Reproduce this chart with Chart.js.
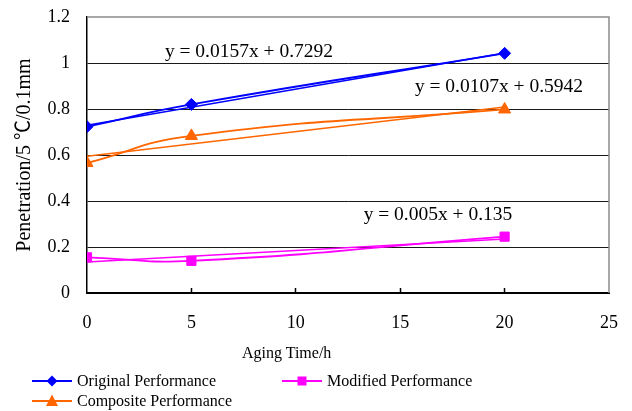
<!DOCTYPE html>
<html><head><meta charset="utf-8">
<script src="https://cdn.jsdelivr.net/npm/chart.js@4.4.1/dist/chart.umd.min.js"></script>
<style>
body{margin:0;background:#fff;}
#wrap{position:relative;width:632px;height:411px;font-family:"Liberation Serif","Times New Roman",serif;color:#000;overflow:hidden;}
canvas{position:absolute;left:0;top:0;}
.t{position:absolute;white-space:nowrap;line-height:1;}
.eq{font-size:19.5px;transform:translate(-50%,-50%);}
.lg{position:absolute;height:20px;display:flex;align-items:center;font-size:16px;white-space:nowrap;transform:translateY(-50%);}
.lg svg{margin-right:5px;}
</style></head><body>
<div id="wrap">
<canvas id="c" width="632" height="411"></canvas>
</div>
<script>
const xValues=[0,5,20];
const originalValues=[0.723,0.82,1.042];
const compositeValues=[0.565,0.683,0.798];
const modifiedValues=[0.155,0.14,0.245];
const trendX=[0,20];
const originalTrend=[0.7292,1.0432];
const compositeTrend=[0.5942,0.8082];
const modifiedTrend=[0.135,0.235];
const xTickLabels=['0','5','10','15','20','25'];
const yTickLabels=['0','0.2','0.4','0.6','0.8','1','1.2'];
const seriesNames=['Original Performance','Composite Performance','Modified Performance'];
const equations=['y = 0.0157x + 0.7292','y = 0.0107x + 0.5942','y = 0.005x + 0.135'];
const xTitle='Aging Time/h';
const yTitle='Penetration/5 ℃/0.1mm';

const colors=['#0000FF','#FF6600','#FF00FF'];
const styles=['rectRot','triangle','rect'];
const radii=[6,7,6.5];

const wrap=document.getElementById('wrap');
function addText(txt,cls,css){const d=document.createElement('div');d.className=cls;d.textContent=txt;Object.assign(d.style,css);wrap.appendChild(d);return d;}
addText(equations[0],'t eq',{left:'249px',top:'51px'});
addText(equations[1],'t eq',{left:'499px',top:'86px'});
addText(equations[2],'t eq',{left:'438px',top:'214px'});
addText(xTitle,'t',{left:'242px',top:'345px',fontSize:'16px'});

const markerSvg=[
 '<polygon points="20,1.5 25.5,7 20,12.5 14.5,7"/>',
 '<polygon points="20,0.5 26,12 14,12"/>',
 '<rect x="15.5" y="2.5" width="9" height="9"/>'
];
const legendPos=[[32,381],[32,401],[282,381]];
seriesNames.forEach((n,i)=>{
  const d=document.createElement('div');d.className='lg';
  d.style.left=legendPos[i][0]+'px';d.style.top=legendPos[i][1]+'px';
  d.innerHTML='<svg width="40" height="14" viewBox="0 0 40 14"><line x1="0" y1="7" x2="40" y2="7" stroke="'+colors[i]+'" stroke-width="2"/><g fill="'+colors[i]+'">'+markerSvg[i]+'</g></svg>';
  const s=document.createElement('span');s.textContent=n;d.appendChild(s);
  wrap.appendChild(d);
});

const series=[originalValues,compositeValues,modifiedValues];
const trends=[originalTrend,compositeTrend,modifiedTrend];
const datasets=[];
series.forEach((vals,i)=>{
  datasets.push({label:seriesNames[i],data:xValues.map((x,j)=>({x:x,y:vals[j]})),borderColor:colors[i],backgroundColor:colors[i],
    borderWidth:1.8,tension:0.5,pointStyle:styles[i],pointRadius:radii[i],pointBorderWidth:1,fill:false});
});
trends.forEach((vals,i)=>{
  datasets.push({label:'trend'+i,data:trendX.map((x,j)=>({x:x,y:vals[j]})),borderColor:colors[i],borderWidth:1.5,pointRadius:0,tension:0,fill:false});
});

const frame={id:'frame',beforeDatasetsDraw(ch){const a=ch.chartArea,c=ch.ctx;c.save();c.strokeStyle='#8c8c8c';c.lineWidth=1.5;c.beginPath();c.moveTo(a.left,a.top);c.lineTo(a.right,a.top);c.lineTo(a.right,a.bottom);c.stroke();c.restore();}};

Chart.defaults.font.family='"Liberation Serif","Times New Roman",serif';
Chart.defaults.color='#000';
new Chart(document.getElementById('c'),{
  type:'line',
  data:{datasets:datasets},
  plugins:[frame],
  options:{
    responsive:false,animation:false,events:[],
    layout:{padding:{left:0,top:17,right:23,bottom:0}},
    plugins:{legend:{display:false},tooltip:{enabled:false}},
    scales:{
      x:{type:'linear',min:0,max:25,
        ticks:{stepSize:5,font:{size:18},color:'#000',padding:24,maxRotation:0,callback:(v,i)=>xTickLabels[i]},
        grid:{display:true,drawOnChartArea:false,drawTicks:true,tickLength:-5,tickWidth:1.5,
          tickColor:(ctx)=>(ctx.index===0||ctx.index===xTickLabels.length-1)?'rgba(0,0,0,0)':'#000'},
        border:{color:'#000',width:2},
        afterFit:(s)=>{s.height=118;s.paddingLeft=0;s.paddingRight=0;}
      },
      y:{min:0,max:1.2,
        ticks:{stepSize:0.2,font:{size:18},color:'#000',padding:17,callback:(v,i)=>yTickLabels[i]},
        grid:{drawTicks:false,lineWidth:1,color:(ctx)=>(ctx.index===0||ctx.index===yTickLabels.length-1)?'rgba(0,0,0,0)':'#1a1a1a'},
        border:{color:'#000',width:1.5},
        title:{display:true,text:yTitle,font:{size:20,family:'"Liberation Serif","Noto Sans CJK SC",serif'},color:'#000',padding:{top:13,bottom:0}},
        afterFit:(s)=>{s.width=87;s.paddingTop=0;s.paddingBottom=0;}
      }
    }
  }
});
</script>
</body></html>
